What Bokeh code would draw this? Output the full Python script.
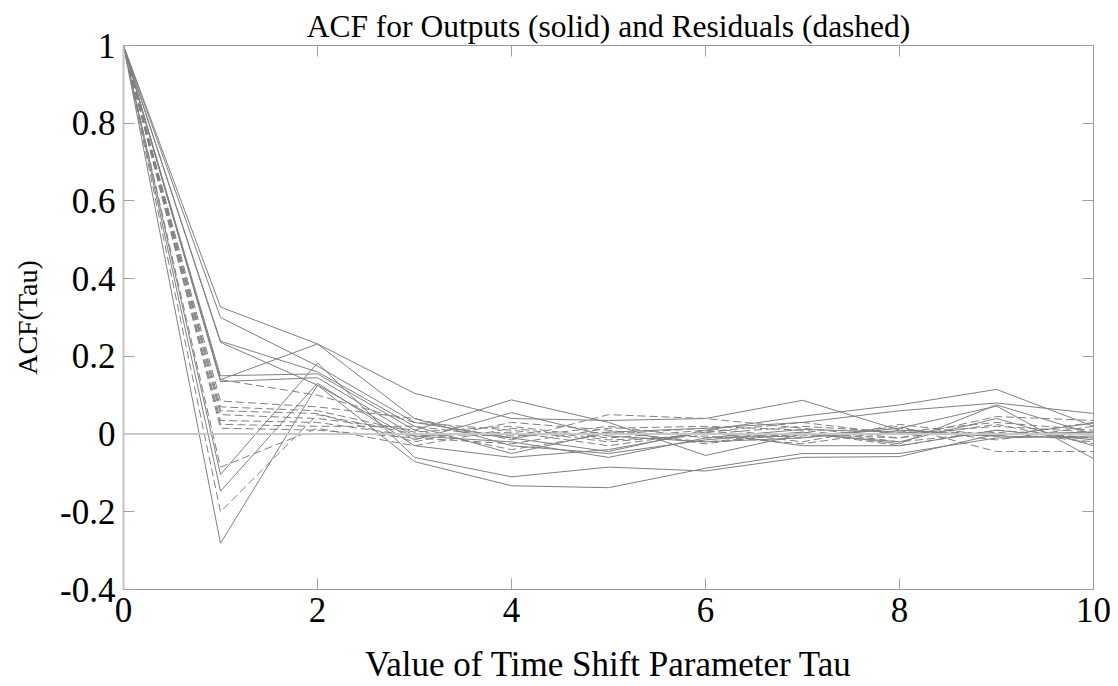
from bokeh.plotting import figure
from bokeh.models import LinearAxis, FixedTicker, Span, Range1d
from bokeh.embed import file_html
from bokeh.resources import INLINE

# Lag values (time shift tau)
lags = [0, 1, 2, 3, 4, 5, 6, 7, 8, 9, 10]

# Autocorrelation of the model outputs (solid lines)
output_acf_1 = [1, 0.327, 0.232, 0.105, 0.040, 0.035, 0.040, 0.087, 0.010, -0.005, -0.010]
output_acf_2 = [1, 0.300, 0.175, 0.030, -0.010, -0.045, 0.010, 0.046, 0.075, 0.115, 0.020]
output_acf_3 = [1, 0.239, 0.160, 0.020, -0.050, 0.005, 0.015, 0.030, 0.060, 0.080, 0.053]
output_acf_4 = [1, 0.236, 0.126, -0.015, 0.055, -0.005, -0.020, -0.010, 0.015, 0.072, -0.063]
output_acf_5 = [1, 0.140, 0.232, 0.040, -0.030, -0.050, -0.015, 0.005, -0.025, 0.075, 0.000]
output_acf_6 = [1, 0.150, 0.155, 0.010, 0.088, 0.030, -0.055, 0.000, -0.020, 0.040, -0.030]
output_acf_7 = [1, 0.135, 0.145, -0.005, -0.020, -0.060, -0.010, 0.012, 0.005, -0.005, 0.028]
output_acf_8 = [1, -0.104, 0.183, -0.060, -0.110, -0.085, -0.095, -0.060, -0.058, 0.000, 0.005]
output_acf_9 = [1, -0.147, 0.131, -0.030, -0.060, -0.040, 0.005, -0.030, -0.030, 0.010, -0.015]
output_acf_10 = [1, -0.281, 0.126, -0.071, -0.133, -0.138, -0.088, -0.050, -0.050, -0.010, -0.005]

# Autocorrelation of the residuals (dashed lines)
residual_acf_1 = [1, 0.140, 0.100, 0.030, 0.010, -0.020, 0.000, 0.020, 0.005, 0.030, 0.010]
residual_acf_2 = [1, 0.085, 0.070, 0.040, -0.015, 0.050, 0.040, 0.015, -0.010, 0.045, 0.035]
residual_acf_3 = [1, 0.070, 0.060, 0.005, 0.020, -0.010, 0.010, -0.020, 0.025, -0.005, 0.030]
residual_acf_4 = [1, 0.060, 0.053, -0.020, 0.030, 0.010, -0.025, 0.005, -0.030, 0.010, -0.010]
residual_acf_5 = [1, 0.050, 0.040, 0.010, -0.040, 0.000, 0.015, -0.010, 0.020, -0.045, -0.045]
residual_acf_6 = [1, 0.035, 0.030, -0.005, 0.005, -0.030, 0.005, 0.030, 0.000, 0.020, 0.005]
residual_acf_7 = [1, 0.025, 0.020, 0.020, -0.010, 0.020, -0.010, -0.005, 0.015, -0.015, 0.020]
residual_acf_8 = [1, 0.015, 0.010, -0.010, -0.025, 0.015, 0.020, 0.010, -0.020, 0.005, -0.020]
residual_acf_9 = [1, -0.085, 0.015, -0.030, 0.015, -0.015, -0.005, -0.025, 0.010, 0.000, 0.000]
residual_acf_10 = [1, -0.200, 0.050, 0.000, -0.005, 0.005, -0.020, 0.000, -0.010, 0.025, -0.025]

output_series = [output_acf_1, output_acf_2, output_acf_3, output_acf_4, output_acf_5,
                 output_acf_6, output_acf_7, output_acf_8, output_acf_9, output_acf_10]
residual_series = [residual_acf_1, residual_acf_2, residual_acf_3, residual_acf_4, residual_acf_5,
                   residual_acf_6, residual_acf_7, residual_acf_8, residual_acf_9, residual_acf_10]

x_ticks = [0, 2, 4, 6, 8, 10]
x_tick_labels = ["0", "2", "4", "6", "8", "10"]
y_ticks = [-0.4, -0.2, 0, 0.2, 0.4, 0.6, 0.8, 1]
y_tick_labels = ["-0.4", "-0.2", "0", "0.2", "0.4", "0.6", "0.8", "1"]

FONT = "Liberation Serif"
LINE = "#808080"
TICK = "#a0a0a0"

p = figure(width=1118, height=686,
           x_range=Range1d(0, 10), y_range=Range1d(-0.4, 1),
           x_axis_location=None, y_axis_location=None,
           output_backend="svg", toolbar_location=None,
           min_border_left=123, min_border_right=25,
           min_border_top=45, min_border_bottom=97)

p.background_fill_color = "white"
p.border_fill_color = "white"
p.outline_line_color = "#9a9a9a"
p.outline_line_width = 1
p.grid.visible = False

p.title.text = "ACF for Outputs (solid) and Residuals (dashed)"
p.title.align = "center"
p.title.text_font = FONT
p.title.text_font_size = "31.5px"
p.title.text_font_style = "normal"
p.title.text_color = "black"
p.title.standoff = 3

bottom_axis = LinearAxis()
left_axis = LinearAxis()
# top and right axes carry only inward ticks (box style)
top_axis = LinearAxis()
right_axis = LinearAxis()
p.add_layout(bottom_axis, "below")
p.add_layout(left_axis, "left")
p.add_layout(top_axis, "above")
p.add_layout(right_axis, "right")


def style_axis(ax, ticks, labels, color, show_labels):
    ax.ticker = FixedTicker(ticks=ticks)
    ax.major_tick_in = 11
    ax.major_tick_out = 0
    ax.minor_tick_in = 0
    ax.minor_tick_out = 0
    ax.major_tick_line_color = TICK
    ax.major_tick_line_width = 1
    ax.axis_line_color = color
    ax.major_label_text_font = FONT
    ax.major_label_text_font_size = "35px"
    ax.major_label_text_color = "black"
    if show_labels:
        ax.major_label_overrides = dict(zip(ticks, labels))
    else:
        ax.major_label_overrides = {t: "" for t in ticks}
        ax.major_label_standoff = 0


style_axis(bottom_axis, x_ticks, x_tick_labels, "#9a9a9a", True)
style_axis(left_axis, y_ticks, y_tick_labels, "#c4c4c4", True)
style_axis(top_axis, x_ticks, x_tick_labels, "#9a9a9a", False)
style_axis(right_axis, y_ticks, y_tick_labels, "#9a9a9a", False)

left_axis.axis_line_width = 2
bottom_axis.major_label_standoff = 8
left_axis.major_label_standoff = 8

bottom_axis.axis_label = "Value of Time Shift Parameter Tau"
left_axis.axis_label = "ACF(Tau)"
for ax in (bottom_axis, left_axis):
    ax.axis_label_text_font = FONT
    ax.axis_label_text_font_style = "normal"
    ax.axis_label_text_color = "black"
bottom_axis.axis_label_text_font_size = "35px"
left_axis.axis_label_text_font_size = "28px"
bottom_axis.axis_label_standoff = 20
left_axis.axis_label_standoff = 14

# zero reference line
p.add_layout(Span(location=0, dimension="width", line_color="#c8c8c8", line_width=2))

for series in output_series:
    p.line(lags, series, line_color=LINE, line_width=1)

for series in residual_series:
    p.line(lags, series, line_color=LINE, line_width=1, line_dash="8 4")

open("out.html", "w").write(file_html(p, INLINE))
